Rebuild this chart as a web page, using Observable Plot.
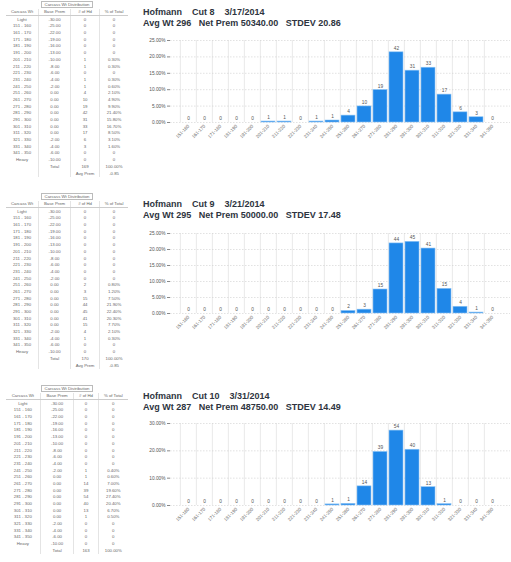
<!DOCTYPE html>
<html><head><meta charset="utf-8">
<script src="https://cdn.jsdelivr.net/npm/d3@7"></script>
<script src="https://cdn.jsdelivr.net/npm/@observablehq/plot@0.6"></script>
<style>
body{margin:0;background:#fff;font-family:"Liberation Sans",Arial,sans-serif;}
#page{position:relative;width:511px;height:562px;overflow:hidden;}
.blk{position:absolute;}
.ttl{position:absolute;left:143px;font-size:9px;font-weight:600;color:#2e3440;white-space:pre;line-height:10.5px;z-index:2;}
table.wt{border-collapse:collapse;font-size:4.3px;color:#666;}
table.wt td{height:6.7px;padding:0 2px;text-align:center;line-height:6px;border-left:0.5px solid #e4e4e4;}
table.wt td:first-child{border-left:none;}
table.wt tr.hd td{border-bottom:0.5px solid #ccc;}
</style></head>
<body><div id="page"></div>
<script>
// ---------- data ----------
const cats20 = ["151-160","161-170","171-180","181-190","191-200","201-210","211-220","221-230","231-240","241-250",
                "251-260","261-270","271-280","281-290","291-300","301-310","311-320","321-330","331-340","341-350"];
const premiums = ["-25.00","-22.00","-19.00","-16.00","-13.00","-10.00","-8.00","-6.00","-4.00","-2.00",
                  "0.00","0.00","0.00","0.00","0.00","0.00","0.00","-2.00","-4.00","-6.00"];

const titles1 = ["Hofmann    Cut 8    3/17/2014", "Avg Wt 296   Net Prem 50340.00   STDEV 20.86"];
const pct1    = [0,0,0,0,0,0.3,0.3,0,0.3,0.6,2.1,4.9,9.9,21.4,15.8,16.7,8.5,3.1,1.6,0];
const count1  = [0,0,0,0,0,1,1,0,1,1,4,10,19,42,31,33,17,6,3,0];

const titles2 = ["Hofmann    Cut 9    3/21/2014", "Avg Wt 295   Net Prem 50000.00   STDEV 17.48"];
const pct2    = [0,0,0,0,0,0,0,0,0,0,0.8,1.2,7.5,21.9,22.4,20.3,7.7,2.1,0.3,0];
const count2  = [0,0,0,0,0,0,0,0,0,0,2,3,15,44,45,41,15,4,1,0];

const titles3 = ["Hofmann    Cut 10    3/31/2014", "Avg Wt 287   Net Prem 48750.00   STDEV 14.49"];
const pct3    = [0,0,0,0,0,0,0,0,0,0.4,0.6,7.0,19.6,27.4,20.4,6.7,0.5,0,0,0];
const count3  = [0,0,0,0,0,0,0,0,0,1,1,14,39,54,40,13,1,0,0,0];

const yTicks1 = [0,5,10,15,20,25];
const yTicks2 = [0,5,10,15,20,25];
const yTicks3 = [0,10,20,30];

// ---------- layout ----------
const page = document.getElementById("page");
const blocks = [
  {titles: titles1, pct: pct1, count: count1, yTicks: yTicks1, tTop: 7,   cTop: 26,  plotH: 82, tabTop: 2,   avgRow: true},
  {titles: titles2, pct: pct2, count: count2, yTicks: yTicks2, tTop: 199, cTop: 219, plotH: 80, tabTop: 194, avgRow: true},
  {titles: titles3, pct: pct3, count: count3, yTicks: yTicks3, tTop: 391, cTop: 409, plotH: 82, tabTop: 386, avgRow: false}
];

const frameW = 340;
const step = frameW / (cats20.length - 0.15 + 1.0);

blocks.forEach(b => {
  const t = document.createElement("div");
  t.className = "ttl";
  t.style.top = b.tTop + "px";
  t.textContent = b.titles.join("\n");
  page.appendChild(t);

  const rows = cats20.map((c, i) => ({cat: c, pct: b.pct[i], count: b.count[i]}));
  const yMax = b.yTicks[b.yTicks.length - 1];
  const chart = Plot.plot({
    width: 375, height: 14 + b.plotH + 36,
    marginLeft: 35, marginRight: 0, marginTop: 14, marginBottom: 36,
    style: {fontSize: "4.8px", fontFamily: "Liberation Sans, Arial, sans-serif", color: "#555", background: "transparent", overflow: "visible"},
    x: {domain: cats20, paddingInner: 0.15, paddingOuter: 0.5, label: null},
    y: {domain: [0, yMax], label: null},
    marks: [
      Plot.ruleX(cats20, {x: d => d, dx: -step / 2, stroke: "#dedede", strokeWidth: 0.7}),
      Plot.gridY(b.yTicks, {stroke: "#cfcfcf", strokeOpacity: 1, strokeDasharray: "1.5,1.5", strokeWidth: 0.6}),
      Plot.axisY(b.yTicks, {tickFormat: d => d.toFixed(2) + "%", tickSize: 3, tickPadding: 2, stroke: "#888", fontSize: 4.8}),
      Plot.axisX({tickRotate: -45, tickSize: 0, tickPadding: 3, fontSize: 4.6, fill: "#666"}),
      Plot.barY(rows, {x: "cat", y: "pct", fill: "#1f87e8", stroke: "#8cc4f5", strokeWidth: 0.6}),
      Plot.text(rows, {x: "cat", y: "pct", text: d => String(d.count), dy: -4, fontSize: 4.8, fill: "#555"})
    ]
  });
  const cd = document.createElement("div");
  cd.className = "blk";
  cd.style.left = "135px";
  cd.style.top = b.cTop + "px";
  cd.appendChild(chart);
  page.appendChild(cd);

  const total = d3.sum(b.count);
  const tab = document.createElement("table");
  tab.className = "wt";
  let html = `<tr><td colspan="4" style="border:none"><span style="border:0.5px solid #bbb;padding:0 3px">Carcass Wt Distribution</span></td></tr>`;
  html += `<tr class="hd"><td>Carcass Wt</td><td>Base Prem</td><td># of Hd</td><td>% of Total</td></tr>`;
  html += `<tr><td>Light</td><td>-30.00</td><td>0</td><td>0</td></tr>`;
  cats20.forEach((c, i) => {
    html += `<tr><td>${c.replace("-", " - ")}</td><td>${premiums[i]}</td><td>${b.count[i]}</td><td>${b.pct[i] ? b.pct[i].toFixed(2) + "%" : "0"}</td></tr>`;
  });
  html += `<tr><td>Heavy</td><td>-10.00</td><td>0</td><td>0</td></tr>`;
  html += `<tr><td></td><td>Total</td><td>${total}</td><td>100.00%</td></tr>`;
  if (b.avgRow) html += `<tr><td></td><td></td><td>Avg Prem</td><td>-0.85</td></tr>`;
  tab.innerHTML = html;
  const td = document.createElement("div");
  td.className = "blk";
  td.style.left = "6px";
  td.style.top = b.tabTop + "px";
  tab.style.width = "122px";
  td.appendChild(tab);
  page.appendChild(td);
});
</script></body></html>
